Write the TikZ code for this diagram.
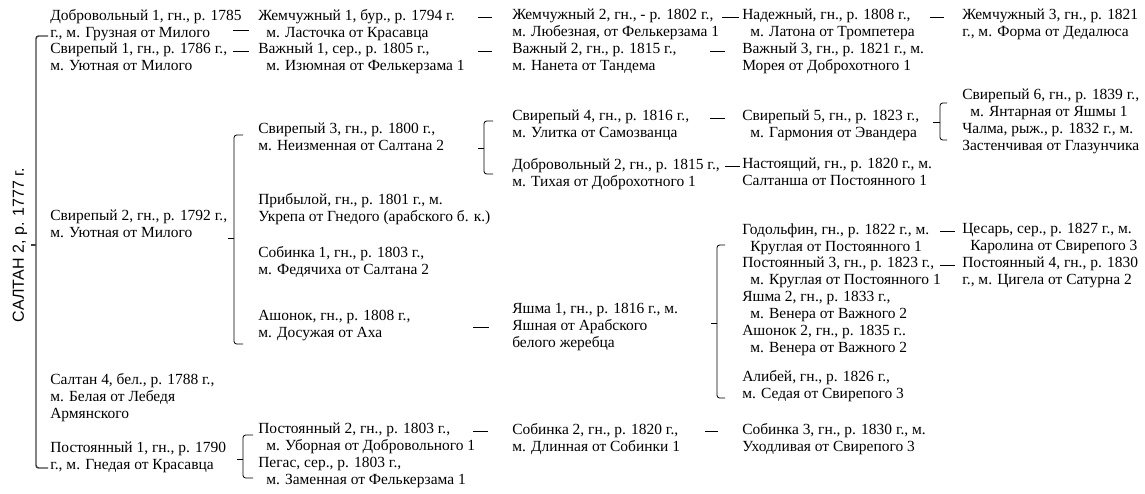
\documentclass[tikz,border=0pt]{standalone}
\usepackage{fontspec}
\setmainfont{Liberation Serif}
\newfontfamily\rootfont{Liberation Sans}
\newcommand\horsefont{\rmfamily\fontsize{11.6}{12.75}\selectfont}
\newcommand\ind{\hspace*{6pt}}
\tikzset{
  horse/.style={anchor=north west, inner sep=0pt, align=left, font=\horsefont, execute at begin node=\strut},
  tie/.style={line width=0.6pt},
  brk/.style={line width=0.6pt, rounded corners=2pt},
}
\begin{document}
\begin{tikzpicture}[x=0.75pt,y=-0.75pt]
            \useasboundingbox (0,0) rectangle (1145,493);
            \node[rotate=90, font={\rootfont\fontsize{12}{14}\selectfont}] (saltan2) at (20,245) {САЛТАН 2, р. 1777 г.}; %родоначальник
            % 1-е поколение
            \node[horse] (dobr1) at (50,9) {Добровольный 1, гн., р. 1785\\г., м. Грузная от Милого};
            \node[horse] (svir1) at (50,43) {Свирепый 1, гн., р. 1786 г.,\\м. Уютная от Милого};
            \node[horse] (svir2) at (50,210) {Свирепый 2, гн., р. 1792 г.,\\м. Уютная от Милого};
            \node[horse] (saltan4) at (50,373) {Салтан 4, бел., р. 1788 г.,\\м. Белая от Лебедя\\Армянского};
            \node[horse] (post1) at (50,442) {Постоянный 1, гн., р. 1790\\г., м. Гнедая от Красавца};
            % 2-е поколение
            \node[horse] (zhem1) at (258,9) {Жемчужный 1, бур., р. 1794 г.\\\ind м. Ласточка от Красавца};
            \node[horse] (vazh1) at (258,43) {Важный 1, сер., р. 1805 г.,\\\ind м. Изюмная от Фелькерзама 1};
            \node[horse] (svir3) at (258,123) {Свирепый 3, гн., р. 1800 г.,\\м. Неизменная от Салтана 2};
            \node[horse] (pribyl) at (258,193) {Прибылой, гн., р. 1801 г., м.\\Укрепа от Гнедого (арабского б. к.)};
            \node[horse] (sobin1) at (258,246) {Собинка 1, гн., р. 1803 г.,\\м. Федячиха от Салтана 2};
            \node[horse] (ashon1) at (258,310) {Ашонок, гн., р. 1808 г.,\\м. Досужая от Аха};
            \node[horse] (post2) at (258,423) {Постоянный 2, гн., р. 1803 г.,\\\ind м. Уборная от Добровольного 1};
            \node[horse] (pegas) at (258,457) {Пегас, сер., р. 1803 г.,\\\ind м. Заменная от Фелькерзама 1};
            % 3-е поколение
            \node[horse] (zhem2) at (512,9) {Жемчужный 2, гн., - р. 1802 г.,\\м. Любезная, от Фелькерзама 1};
            \node[horse] (vazh2) at (512,43) {Важный 2, гн., р. 1815 г.,\\м. Нанета от Тандема};
            \node[horse] (svir4) at (512,110) {Свирепый 4, гн., р. 1816 г.,\\м. Улитка от Самозванца};
            \node[horse] (dobr2) at (512,158) {Добровольный 2, гн., р. 1815 г.,\\м. Тихая от Доброхотного 1};
            \node[horse] (yashma1) at (512,303) {Яшма 1, гн., р. 1816 г., м.\\Яшная от Арабского\\белого жеребца};
            \node[horse] (sobin2) at (512,423) {Собинка 2, гн., р. 1820 г.,\\м. Длинная от Собинки 1};
            % 4-е поколение
            \node[horse] (nadezh) at (742,9) {Надежный, гн., р. 1808 г.,\\\ind м. Латона от Тромпетера};
            \node[horse] (vazh3) at (742,43) {Важный 3, гн., р. 1821 г., м.\\Морея от Доброхотного 1};
            \node[horse] (svir5) at (742,110) {Свирепый 5, гн., р. 1823 г.,\\\ind м. Гармония от Эвандера};
            \node[horse] (nastoy) at (742,158) {Настоящий, гн., р. 1820 г., м.\\Салтанша от Постоянного 1};
            \node[horse] (godolf) at (742,223) {Годольфин, гн., р. 1822 г., м.\\\ind Круглая от Постоянного 1};
            \node[horse] (post3) at (742,257) {Постоянный 3, гн., р. 1823 г.,\\\ind м. Круглая от Постоянного 1};
            \node[horse] (yashma2) at (742,291) {Яшма 2, гн., р. 1833 г.,\\\ind м. Венера от Важного 2};
            \node[horse] (ashon2) at (742,325) {Ашонок 2, гн., р. 1835 г..\\\ind м. Венера от Важного 2};
            \node[horse] (alibey) at (742,370) {Алибей, гн., р. 1826 г.,\\м. Седая от Свирепого 3};
            \node[horse] (sobin3) at (742,423) {Собинка 3, гн., р. 1830 г., м.\\Уходливая от Свирепого 3};
            % 5-е поколение
            \node[horse] (zhem3) at (962,9) {Жемчужный 3, гн., р. 1821\\г., м. Форма от Дедалюса};
            \node[horse] (svir6) at (962,89) {Свирепый 6, гн., р. 1839 г.,\\\ind м. Янтарная от Яшмы 1};
            \node[horse] (chalma) at (962,123) {Чалма, рыж., р. 1832 г., м.\\Застенчивая от Глазунчика};
            \node[horse] (tsesar) at (962,223) {Цесарь, сер., р. 1827 г., м.\\\ind Каролина от Свирепого 3};
            \node[horse] (post4) at (962,257) {Постоянный 4, гн., р. 1830\\г., м. Цигела от Сатурна 2};
            % скобки
            \draw[brk, line width=1.1pt, black!75] ([shift={(-2,27)}]dobr1.north west) -- ++(-12,0) coordinate (k1) |- ([shift={(-2,26)}]post1.north west); %Салтан 2
            \draw[brk, line width=1.1pt, black!75] (k1 |- saltan2.center) -- ++(-5,0);
            \draw[brk] ([shift={(-15,12)}]svir3.north west) -- ++(-9,0) coordinate (k2) |- ([shift={(-15,34)}]ashon1.north west); %Свирепый 2
            \draw[brk] (k2 |- svir2.north) ++(0,28) -- ++(-6,0);
            \draw[brk] ([shift={(-19,11)}]svir4.north west) -- ++(-9,0) coordinate (k3) |- ([shift={(-19,16)}]dobr2.north west); %Свирепый 3
            \draw[brk] (k3 |- svir3.north) ++(0,25) -- ++(-6,0);
            \draw[brk] ([shift={(-15,14)}]svir6.north west) -- ++(-7,0) coordinate (k4) |- ([shift={(-15,17)}]chalma.north west); %Свирепый 5
            \draw[brk] (k4 |- svir5.north) ++(0,12) -- ++(-7,0);
            \draw[brk] ([shift={(-17,22)}]godolf.north west) -- ++(-8,0) coordinate (k5) |- ([shift={(-17,28)}]alibey.north west); %Яшма 1
            \draw[brk] (k5 |- yashma1.north) ++(0,20) -- ++(-6,0);
            \draw[brk] ([shift={(-5,12)}]post2.north west) -- ++(-10,0) coordinate (k6) |- ([shift={(-5,21)}]pegas.north west); %Постоянный 1
            \draw[brk] (k6 |- post1.north) ++(0,17) -- ++(-6,0);
            % тире
            \draw[tie] ([shift={(-25,21)}]zhem1.north west) -- ++(16,0); %Добровольный 1
            \draw[tie] ([shift={(-25,8)}]vazh1.north west) -- ++(16,0); %Свирепый 1
            \draw[tie] ([shift={(-34,8)}]zhem2.north west) -- ++(14,0);
            \draw[tie] ([shift={(-34,8)}]vazh2.north west) -- ++(14,0);
            \draw[tie] ([shift={(-20,8)}]nadezh.north west) -- ++(17,0);
            \draw[tie] ([shift={(-32,8)}]vazh3.north west) -- ++(15,0);
            \draw[tie] ([shift={(-32,8)}]svir5.north west) -- ++(15,0);
            \draw[tie] ([shift={(-17,8)}]nastoy.north west) -- ++(15,0);
            \draw[tie] ([shift={(-32,8)}]zhem3.north west) -- ++(14,0);
            \draw[tie] ([shift={(-39,24)}]yashma1.north west) -- ++(16,0); %Ашонок
            \draw[tie] ([shift={(-22,8)}]tsesar.north west) -- ++(15,0);
            \draw[tie] ([shift={(-22,8)}]post4.north west) -- ++(15,0);
            \draw[tie] ([shift={(-39,8)}]sobin2.north west) -- ++(15,0);
            \draw[tie] ([shift={(-37,8)}]sobin3.north west) -- ++(13,0);
\end{tikzpicture}
\end{document}
